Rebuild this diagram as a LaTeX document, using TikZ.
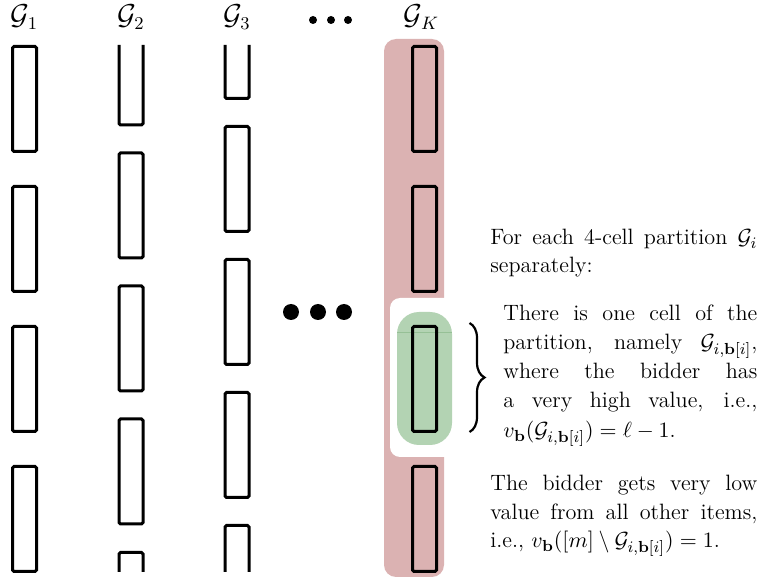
\documentclass[tikz,border=0pt]{standalone}
\usetikzlibrary{decorations.pathreplacing}
\definecolor{pinkbg}{RGB}{219,178,178}
\definecolor{greenbg}{RGB}{179,211,179}
\definecolor{greenline}{RGB}{150,192,150}
\begin{document}
\begin{tikzpicture}[x=0.5pt,y=-0.5pt,
  cell/.style={draw=black,line width=1.5pt,rounded corners=0.8pt,minimum width=12pt,minimum height=52.5pt,inner sep=0pt,outer sep=0pt},
  open/.style={draw=black,line width=1.5pt,rounded corners=0.8pt},
  lbl/.style={inner sep=0pt,anchor=base,font=\fontsize{13.5}{16}\selectfont},
  txt/.style={inner sep=0pt,anchor=base west,font=\fontsize{11.1}{14}\selectfont},
]
\useasboundingbox (0,0) rectangle (757,583);
% backgrounds of column K
\fill[pinkbg,rounded corners=6pt] (384,39) rectangle (444,577);
\fill[white,rounded corners=5pt] (390,298) rectangle (462,457);
\fill[greenbg,rounded corners=11pt] (397,312) rectangle (452,445);
\draw[greenline,line width=0.3pt] (397,332) -- (452,332);
% labels
\node[lbl] (g1) at (24.5,25) {$\mathcal{G}_1$};
\node[lbl] (g2) at (131,25) {$\mathcal{G}_2$};
\node[lbl] (g3) at (237,25) {$\mathcal{G}_3$};
\node[lbl] (gK) at (421.5,25) {$\mathcal{G}_K$};
% small dots
\fill (313,20) circle (2pt);
\fill (331,20) circle (2pt);
\fill (348,20) circle (2pt);
% big dots
\fill (291,312) circle (4pt);
\fill (318,312) circle (4pt);
\fill (344,312) circle (4pt);
% column 1
\foreach \y [count=\i] in {99,239,379,519} \node[cell] (c1-\i) at (24.5,\y) {};
% column 2
\draw[open] (119,45) -- (119,125) -- (143,125) -- (143,45);
\foreach \y [count=\i] in {205.5,338.5,471.5} \node[cell] (c2-\i) at (131,\y) {};
\draw[open] (119,572) -- (119,552.5) -- (143,552.5) -- (143,572);
% column 3
\draw[open] (225,45) -- (225,98.5) -- (249,98.5) -- (249,45);
\foreach \y [count=\i] in {179,312,445} \node[cell] (c3-\i) at (237,\y) {};
\draw[open] (225,572) -- (225,525.5) -- (249,525.5) -- (249,572);
% column K
\foreach \y [count=\i] in {99,239,379,519} \node[cell] (cK-\i) at (424.5,\y) {};
% brace
\coordinate (bt) at (469.5,323);
\coordinate (bb) at (469.5,432);
\draw[line width=1.1pt,decorate,decoration={brace,amplitude=7.5pt}] (bt) -- (bb);
% text
\node[txt] (p1a) at (490,245) {\makebox[133.5pt][s]{For each 4-cell partition $\mathcal{G}_i$}};
\node[txt] (p1b) at (490,273) {separately:};
\node[txt] (p2a) at (503,321) {\makebox[127pt][s]{There is one cell of the}};
\node[txt] (p2b) at (503,350) {\makebox[127pt][s]{partition, namely $\mathcal{G}_{i,\mathbf{b}[i]}$,}};
\node[txt] (p2c) at (503,379) {\makebox[127pt][s]{where the bidder has}};
\node[txt] (p2d) at (503,408) {\makebox[127pt][s]{a very high value, i.e.,}};
\node[txt] (p2e) at (503,438) {$v_{\mathbf{b}}(\mathcal{G}_{i,\mathbf{b}[i]}) = \ell - 1$.};
\node[txt] (p3a) at (490,491) {\makebox[133.5pt][s]{The bidder gets very low}};
\node[txt] (p3b) at (490,520) {\makebox[133.5pt][s]{value from all other items,}};
\node[txt] (p3c) at (490,548) {i.e., $v_{\mathbf{b}}([m] \setminus \mathcal{G}_{i,\mathbf{b}[i]}) = 1$.};
\end{tikzpicture}
\end{document}
